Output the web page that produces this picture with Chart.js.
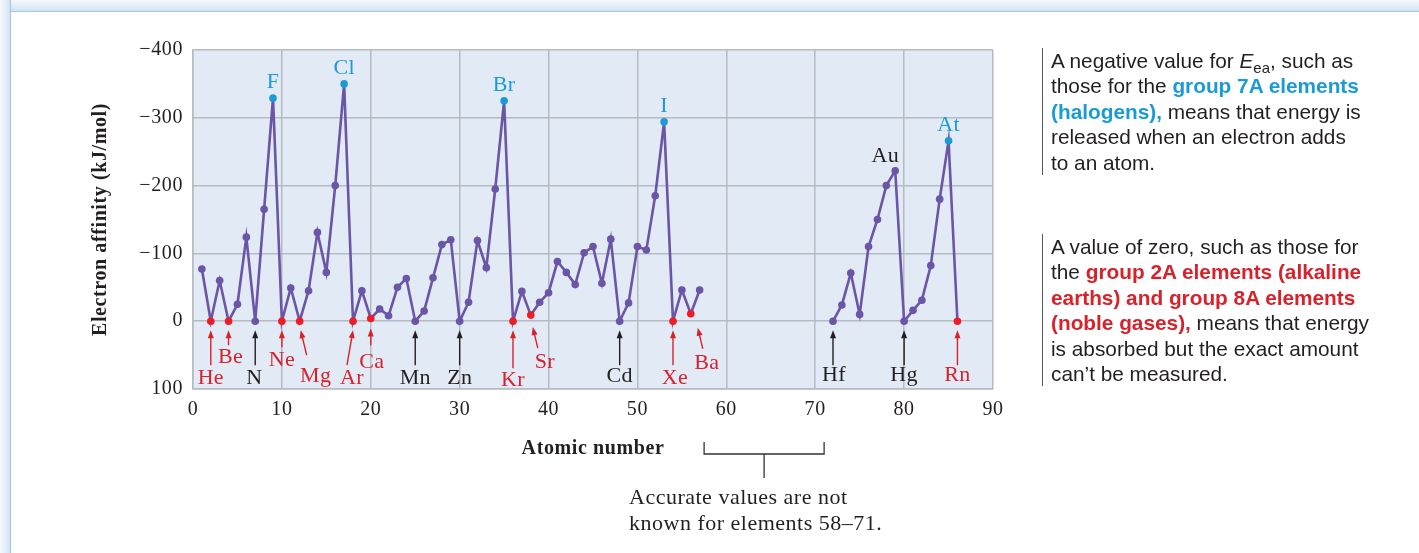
<!DOCTYPE html>
<html>
<head>
<meta charset="utf-8">
<script src="https://cdn.jsdelivr.net/npm/chart.js@4.4.1/dist/chart.umd.min.js"></script>
<style>
  body { margin:0; width:1419px; height:553px; position:relative; overflow:hidden; background:#fff; }
  #bandTop { position:absolute; left:0; top:0; width:1419px; height:11px;
             background:linear-gradient(to bottom,#f7f9fc,#d3e3f4); border-bottom:1px solid #9dc9ef; }
  #bandLeft { position:absolute; left:0; top:0; width:10px; height:553px;
              background:linear-gradient(to right,#f7f9fc,#d3e3f4); border-right:1px solid #9dc9ef; }
  #c { position:absolute; left:0; top:0; }
  .side { position:absolute; left:1042px; border-left:1.5px solid #555; padding-left:8px;
          font-family:"Liberation Sans",Arial,sans-serif; font-size:20.8px; line-height:25.4px; color:#231f20; }
  .side sub { font-size:0.72em; vertical-align:-0.35em; line-height:0; }
  .blue { color:#1a9bd7; font-weight:bold; }
  .red { color:#d8222b; font-weight:bold; }
  #note { position:absolute; left:629px; top:484px; font-family:"Liberation Serif",serif;
          font-size:22px; line-height:26px; letter-spacing:0.5px; color:#231f20; }
</style>
</head>
<body>
<div id="bandTop"></div>
<div id="bandLeft"></div>
<canvas id="c" width="1419" height="553"></canvas>
<div class="side" style="top:48px">A negative value for <i>E</i><sub>ea</sub>, such as<br>those for the <span class="blue">group 7A elements</span><br><span class="blue">(halogens),</span> means that energy is<br>released when an electron adds<br>to an atom.</div>
<div class="side" style="top:234px">A value of zero, such as those for<br>the <span class="red">group 2A elements (alkaline</span><br><span class="red">earths) and group 8A elements</span><br><span class="red">(noble gases),</span> means that energy<br>is absorbed but the exact amount<br>can’t be measured.</div>
<div id="note">Accurate values are not<br>known for elements 58–71.</div>
<script>
// элементы 1..86
const symbols = ['H','He','Li','Be','B','C','N','O','F','Ne','Na','Mg','Al','Si','P','S','Cl','Ar','K','Ca',
  'Sc','Ti','V','Cr','Mn','Fe','Co','Ni','Cu','Zn','Ga','Ge','As','Se','Br','Kr','Rb','Sr','Y','Zr',
  'Nb','Mo','Tc','Ru','Rh','Pd','Ag','Cd','In','Sn','Sb','Te','I','Xe','Cs','Ba','La','Ce','Pr','Nd',
  'Pm','Sm','Eu','Gd','Tb','Dy','Ho','Er','Tm','Yb','Lu','Hf','Ta','W','Re','Os','Ir','Pt','Au','Hg',
  'Tl','Pb','Bi','Po','At','Rn'];
// сродство к электрону, кДж/моль (null = нет данных, 58-71)
const affinity = [-77,0,-60,0,-25,-124,0,-165,-329,0,-49,0,-45,-131,-72,-200,-350,0,-45,-4,
  -18,-8,-50,-63,0,-15,-64,-113,-120,0,-28,-119,-79,-195,-325,0,-44,-9,-28,-42,
  -88,-72,-54,-101,-110,-56,-121,0,-27,-110,-105,-185,-294,0,-46,-11,-46,null,null,null,
  null,null,null,null,null,null,null,null,null,null,null,0,-24,-71,-10,-110,-150,-200,-222,0,
  -16,-31,-82,-180,-266,0];
const xTicks = [0,10,20,30,40,50,60,70,80,90];
const yTicks = [-400,-300,-200,-100,0,100];
const halogens = ['F','Cl','Br','I','At'];
const redZero = ['He','Be','Ne','Mg','Ar','Ca','Kr','Sr','Xe','Ba','Rn'];
const blackZero = ['N','Mn','Zn','Cd','Hf','Hg'];
const gapFrom = 58, gapTo = 71;

const PURPLE = '#6a55a6', BLUE = '#1a9bd7', RED = '#ee1c25', RED_TXT = '#d8222b', INK = '#231f20';
const SERIF = '"Liberation Serif", serif';

// смещения подписей и стрелок относительно точки (пиксели)
const callout = {
  He:{t:[0,57],a:[0,44],b:[0,9]},  Be:{t:[2,36],a:[0,24],b:[0,9]},  N:{t:[-1,57],a:[0,44],b:[0,9]},
  Ne:{t:[0,39],a:[0,26],b:[0,9]},  Mg:{t:[16,55],a:[7,34],b:[1,9]}, Ar:{t:[-1,57],a:[-6,44],b:[0,9]},
  Ca:{t:[1,44],a:[0,27],b:[0,10]}, Mn:{t:[0,57],a:[0,44],b:[0,9]},  Zn:{t:[0,57],a:[0,44],b:[0,9]},
  Kr:{t:[0,59],a:[0,47],b:[0,9]},  Sr:{t:[14,47],a:[7,33],b:[2,12]},Cd:{t:[0,55],a:[0,44],b:[0,9]},
  Xe:{t:[2,57],a:[0,44],b:[0,9]},  Ba:{t:[16,49],a:[12,35],b:[7,14]},Hf:{t:[1,54],a:[0,44],b:[0,9]},
  Hg:{t:[0,54],a:[0,44],b:[0,9]},  Rn:{t:[0,54],a:[0,44],b:[0,9]}
};

const points = symbols.map((s,i) => ({x: i+1, y: affinity[i]}));

function dotColor(ctx){
  const s = symbols[ctx.dataIndex];
  if (halogens.includes(s)) return BLUE;
  if (redZero.includes(s)) return RED;
  return PURPLE;
}

function arrow(ctx, x1, y1, x2, y2, col){
  const ang = Math.atan2(y2-y1, x2-x1);
  ctx.strokeStyle = col; ctx.fillStyle = col; ctx.lineWidth = 1.4;
  ctx.beginPath(); ctx.moveTo(x1,y1);
  ctx.lineTo(x2-6*Math.cos(ang), y2-6*Math.sin(ang)); ctx.stroke();
  ctx.beginPath(); ctx.moveTo(x2,y2);
  ctx.lineTo(x2-8*Math.cos(ang)+3*Math.sin(ang), y2-8*Math.sin(ang)-3*Math.cos(ang));
  ctx.lineTo(x2-8*Math.cos(ang)-3*Math.sin(ang), y2-8*Math.sin(ang)+3*Math.cos(ang));
  ctx.closePath(); ctx.fill();
}

const plotBg = {
  id:'plotBg',
  beforeDraw(chart){
    const {ctx, chartArea:a} = chart;
    ctx.fillStyle = '#e2eaf5';
    ctx.fillRect(a.left, a.top, a.right-a.left, a.bottom-a.top);
    ctx.letterSpacing = '0.6px'; // шрифт оригинала шире
  },
  beforeDatasetsDraw(chart){
    chart.ctx.letterSpacing = '0px';
  }
};

const labels = {
  id:'labels',
  afterDatasetsDraw(chart){
    const {ctx, scales:{x, y}} = chart;
    ctx.save();
    ctx.letterSpacing = '0.3px';
    ctx.font = '22px ' + SERIF; ctx.textAlign = 'center'; ctx.textBaseline = 'middle';
    // галогены и Au сверху
    halogens.concat(['Au']).forEach(s => {
      const i = symbols.indexOf(s);
      const px = x.getPixelForValue(i+1), py = y.getPixelForValue(affinity[i]);
      ctx.fillStyle = s === 'Au' ? INK : BLUE;
      if (s === 'Au') ctx.fillText(s, px-10, py-14);
      else ctx.fillText(s, px, py-16);
    });
    // стрелки к нулевым значениям
    redZero.concat(blackZero).forEach(s => {
      const i = symbols.indexOf(s), c = callout[s];
      const px = x.getPixelForValue(i+1), py = y.getPixelForValue(affinity[i]);
      const col = redZero.includes(s) ? RED_TXT : INK;
      arrow(ctx, px+c.a[0], py+c.a[1], px+c.b[0], py+c.b[1], col);
      ctx.fillStyle = col;
      ctx.fillText(s, px+c.t[0], py+c.t[1]);
    });
    // скобка 58-71
    const bx1 = x.getPixelForValue(gapFrom-0.5), bx2 = x.getPixelForValue(gapTo);
    const by = y.bottom;
    ctx.strokeStyle = '#333'; ctx.lineWidth = 1.3;
    ctx.beginPath();
    ctx.moveTo(bx1, by+53); ctx.lineTo(bx1, by+65); ctx.lineTo(bx2, by+65); ctx.lineTo(bx2, by+53);
    ctx.moveTo((bx1+bx2)/2, by+65); ctx.lineTo((bx1+bx2)/2, by+89);
    ctx.stroke();
    ctx.restore();
  }
};

const chart = new Chart(document.getElementById('c'), {
  type:'line',
  data:{ datasets:[{
    data: points,
    borderColor: PURPLE, borderWidth: 2.6,
    pointRadius: 3.8, pointBorderWidth: 0,
    pointBackgroundColor: dotColor,
    spanGaps: false, tension: 0
  }]},
  options:{
    responsive:false, animation:false, devicePixelRatio:1,
    layout:{ padding:{left:85, top:50, right:426, bottom:92} },
    plugins:{ legend:{display:false}, tooltip:{enabled:false} },
    scales:{
      x:{ type:'linear', min:0, max:90,
          afterFit: s => { s.height = 72; },
          afterBuildTicks: s => { s.ticks = xTicks.map(v => ({value:v})); },
          grid:{ color:'#b6bac1', lineWidth:1.5, drawTicks:false },
          border:{ color:'#b6bac1', width:1.5 },
          ticks:{ padding:9, color:INK, font:{family:SERIF, size:20} },
          title:{ display:true, text:'Atomic number', color:INK, padding:{top:0,bottom:0},
                  font:{family:SERIF, size:20, weight:'bold'} } },
      y:{ type:'linear', min:-400, max:100, reverse:true,
          afterFit: s => { s.width = 108; },
          afterBuildTicks: s => { s.ticks = yTicks.map(v => ({value:v})); },
          grid:{ color:'#b6bac1', lineWidth:1.5, drawTicks:false },
          border:{ color:'#b6bac1', width:1.5 },
          ticks:{ padding:10, color:INK, font:{family:SERIF, size:20},
                  callback: v => v < 0 ? '\u2212' + Math.abs(v) : String(v) },
          title:{ display:true, text:'Electron affinity (kJ/mol)', color:INK, padding:{top:4,bottom:0},
                  font:{family:SERIF, size:20, weight:'bold'} } }
    }
  },
  plugins:[plotBg, labels]
});
</script>
</body>
</html>
